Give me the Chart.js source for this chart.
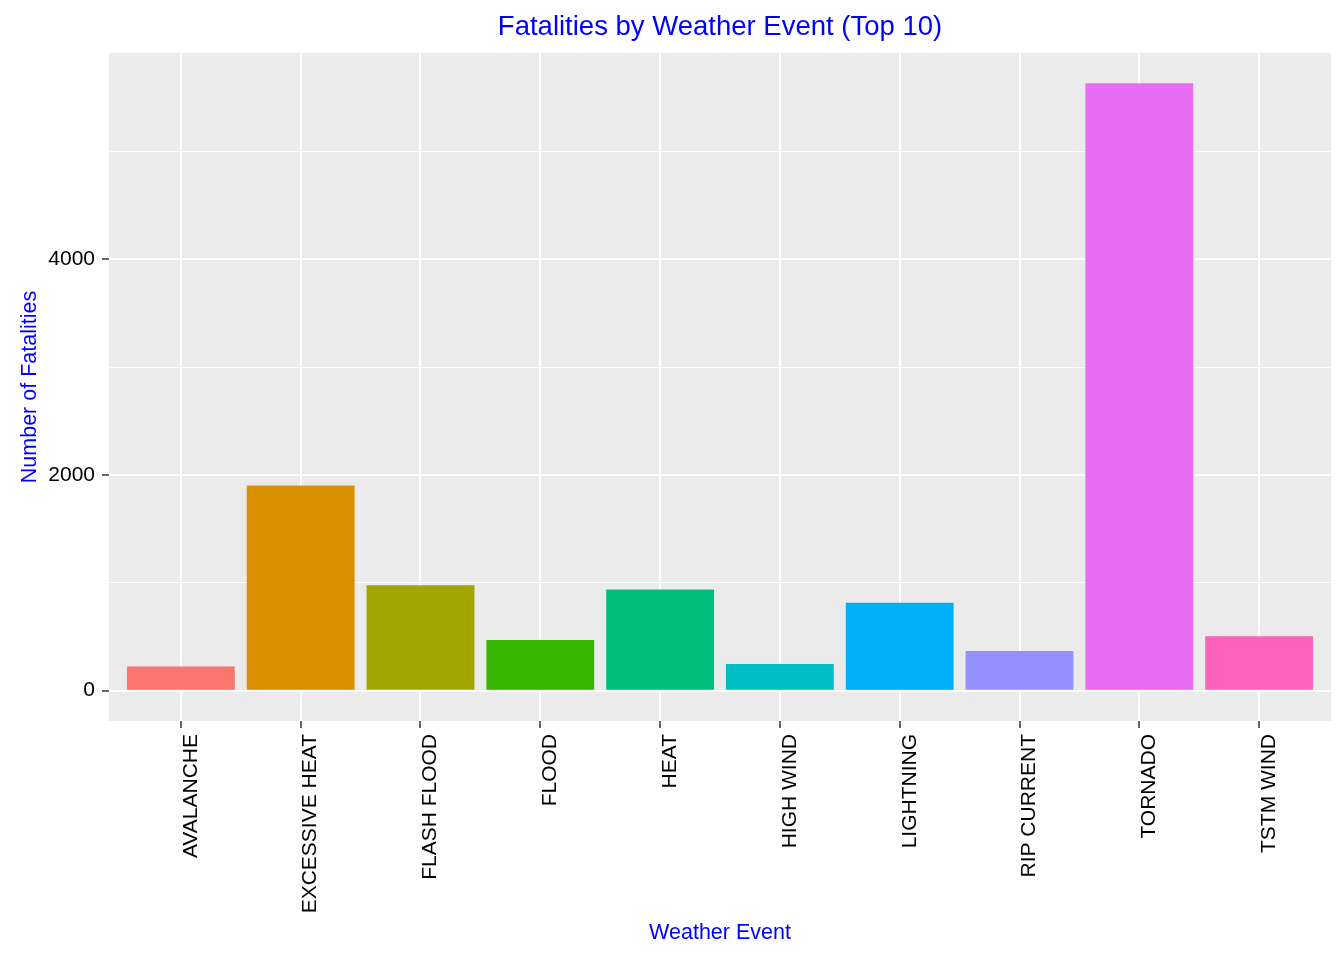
<!DOCTYPE html>
<html>
<head>
<meta charset="utf-8">
<script src="https://cdn.jsdelivr.net/npm/chart.js@4/dist/chart.umd.min.js"></script>
<style>
  body { margin: 0; background: #fff; }
  #wrap { width: 1344px; height: 960px; position: relative; }
</style>
</head>
<body>
<div id="wrap"><canvas id="chart"></canvas></div>
<script>
const events = ['AVALANCHE', 'EXCESSIVE HEAT', 'FLASH FLOOD', 'FLOOD', 'HEAT',
  'HIGH WIND', 'LIGHTNING', 'RIP CURRENT', 'TORNADO', 'TSTM WIND']
const fatalities = [224, 1903, 978, 470, 937, 248, 816, 368, 5633, 504]
const barColors = ['#F8766D', '#D89000', '#A3A500', '#39B600', '#00BF7D',
  '#00BFC4', '#00B0F6', '#9590FF', '#E76BF3', '#FF62BC']
const yTicks = [0, 1000, 2000, 3000, 4000, 5000]
const yLabelled = [0, 2000, 4000]
const chartTitle = 'Fatalities by Weather Event (Top 10)'

const FONT = "'Liberation Sans', Arial, sans-serif"

// grey panel + title centred over the panel, like ggplot
const panelBg = {
  id: 'panelBg',
  beforeDraw(chart) {
    const { ctx, chartArea: a } = chart
    ctx.save()
    ctx.fillStyle = '#EBEBEB'
    ctx.fillRect(a.left, a.top, a.right - a.left, a.bottom - a.top)
    ctx.restore()
  },
  afterDraw(chart) {
    const { ctx, chartArea: a } = chart
    ctx.save()
    ctx.fillStyle = '#0000FF'
    ctx.font = '27.5px ' + FONT
    ctx.textAlign = 'center'
    ctx.textBaseline = 'middle'
    ctx.fillText(chartTitle, (a.left + a.right) / 2, 27)
    ctx.restore()
  }
}

const ymax = Math.max(...fatalities)

new Chart(document.getElementById('chart'), {
  type: 'bar',
  data: {
    datasets: [{
      data: fatalities.map((v, i) => ({ x: i, y: v })),
      backgroundColor: barColors,
      borderWidth: 0,
      categoryPercentage: 0.9,
      barPercentage: 1.0
    }]
  },
  plugins: [panelBg],
  options: {
    responsive: true,
    maintainAspectRatio: false,
    animation: false,
    layout: { padding: { left: 0, right: 13, top: 53, bottom: 0 } },
    plugins: {
      legend: { display: false },
      tooltip: { enabled: false },
      title: { display: false }
    },
    scales: {
      x: {
        type: 'linear',
        min: -0.6,
        max: events.length - 1 + 0.6,
        offset: false,
        afterBuildTicks(scale) {
          scale.ticks = events.map((_, i) => ({ value: i }))
        },
        afterFit(scale) { scale.height = 239 },
        border: { display: false },
        grid: {
          offset: false,
          color: '#FFFFFF',
          lineWidth: 2,
          tickColor: '#333333',
          tickWidth: 1.5,
          tickLength: 7
        },
        ticks: {
          autoSkip: false,
          minRotation: 90,
          maxRotation: 90,
          padding: 6,
          labelOffset: 10,
          color: '#000000',
          font: { size: 21, family: FONT },
          callback: (v) => events[v]
        },
        title: {
          display: true,
          text: 'Weather Event',
          color: '#0000FF',
          font: { size: 21.5, family: FONT },
          padding: { top: 0, bottom: 14 }
        }
      },
      y: {
        min: -ymax * 0.05,
        max: ymax * 1.05,
        afterBuildTicks(scale) {
          scale.ticks = yTicks.map(v => ({ value: v }))
        },
        afterFit(scale) { scale.width = 109 },
        border: { display: false },
        grid: {
          color: '#FFFFFF',
          lineWidth: (c) => (yLabelled.includes(c.tick.value) ? 2 : 1),
          tickColor: (c) => (yLabelled.includes(c.tick.value) ? '#333333' : 'rgba(0,0,0,0)'),
          tickWidth: 1.5,
          tickLength: 7
        },
        ticks: {
          padding: 7,
          color: '#000000',
          font: { size: 21, family: FONT },
          callback: (v) => (yLabelled.includes(v) ? String(v) : '')
        },
        title: {
          display: true,
          text: 'Number of Fatalities',
          color: '#0000FF',
          font: { size: 21.5, family: FONT },
          padding: { top: 17, bottom: 0 }
        }
      }
    }
  }
})
</script>
</body>
</html>
